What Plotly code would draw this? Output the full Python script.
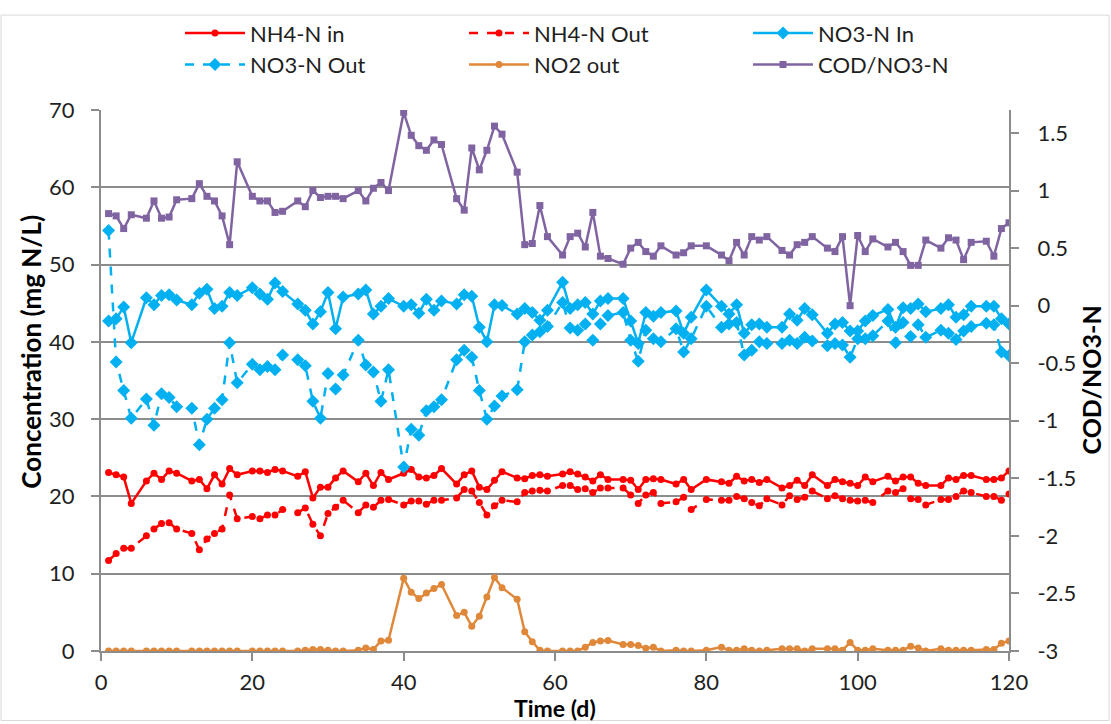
import plotly.graph_objects as go

days = [1,2,3,4,6,7,8,9,10,12,13,14,15,16,17,18,20,21,22,23,24,26,27,28,29,30,31,32,
        34,35,36,37,38,40,41,42,43,44,45,47,48,49,50,51,52,53,55,56,57,58,59,
        61,62,63,64,65,66,67,69,70,71,72,73,74,76,77,78,80,82,83,84,85,86,87,88,
        90,91,92,93,94,96,97,98,99,100,101,102,104,105,106,107,108,109,111,112,113,114,115,
        117,118,119,120]

nh4_in = [23.1,22.8,22.5,19.1,22.0,23.0,22.2,23.3,23.0,22.0,22.2,21.0,22.8,21.6,23.6,22.8,
          23.3,23.3,23.1,23.5,23.3,22.6,23.2,19.8,21.2,21.2,22.4,23.3,
          21.9,23.0,21.4,23.1,22.2,23.0,23.5,22.5,22.4,22.7,23.6,21.6,22.8,23.3,21.2,20.9,22.1,23.2,
          22.4,22.3,22.7,22.8,22.6,
          22.9,23.2,22.9,22.5,22.0,22.8,22.2,22.2,22.1,20.9,22.2,22.3,22.2,21.6,22.2,20.9,22.2,
          21.9,21.7,22.6,22.0,22.2,21.8,22.2,
          21.1,21.4,22.1,21.4,22.8,21.4,22.2,21.9,21.7,21.4,22.5,21.9,22.6,22.0,22.5,22.5,21.7,21.4,
          21.4,22.4,22.2,22.7,22.7,22.2,22.2,22.4,23.3]

nh4_out = [11.7,12.6,13.3,13.3,14.9,15.8,16.5,16.6,15.8,15.2,13.1,14.5,15.2,15.8,20.2,17.1,
           17.4,17.1,17.6,17.6,18.3,17.9,18.5,16.4,14.9,17.8,18.6,19.5,
           17.9,18.9,18.6,19.5,19.6,18.9,19.4,19.4,19.0,19.5,19.5,19.8,20.9,20.7,19.2,17.6,18.8,19.5,
           19.3,20.5,20.7,20.8,20.7,
           21.4,21.4,20.9,21.0,20.5,21.1,21.1,21.1,20.2,19.1,20.2,20.5,19.1,19.3,19.9,18.3,19.6,
           19.5,19.5,20.0,19.7,19.2,18.8,19.7,
           18.9,20.1,19.6,19.9,20.7,19.7,20.1,19.7,19.5,19.4,19.5,19.2,20.7,20.5,21.0,19.7,19.6,18.9,
           19.6,19.6,20.0,20.7,20.5,20.0,20.0,19.5,20.3]

no3_in = [42.7,43.0,44.5,39.9,45.7,44.8,46.0,46.1,45.4,44.8,46.3,46.8,44.3,44.6,46.4,46.0,
          47.0,46.2,45.5,47.6,46.5,44.9,44.1,42.3,43.9,46.4,41.7,45.8,
          46.2,46.7,43.6,44.6,45.6,44.6,44.8,43.7,45.5,44.1,45.3,44.9,46.1,45.9,41.9,40.0,44.8,44.7,
          43.6,44.3,43.8,42.8,44.1,
          47.7,44.3,44.8,45.1,43.6,45.3,45.6,45.6,42.7,39.8,43.8,43.3,43.8,44.0,41.1,43.2,46.7,
          44.6,43.6,44.8,41.1,42.2,42.3,41.9,
          41.9,43.6,42.8,44.3,43.5,41.1,42.3,42.5,41.4,41.4,42.7,43.4,44.2,41.9,44.4,44.3,44.9,43.9,
          44.3,44.8,43.2,43.5,44.6,44.6,44.6,43.0,42.3]

no3_out = [54.4,37.4,33.7,30.1,32.6,29.2,33.3,32.8,31.6,31.4,26.7,30.0,31.4,32.5,39.9,34.7,
           37.1,36.4,36.8,36.4,38.3,37.7,36.9,32.3,30.1,35.9,33.9,35.7,
           40.2,37.0,36.1,32.3,36.4,23.8,28.7,27.9,31.1,31.6,32.5,37.7,38.9,38.0,33.7,30.0,31.7,33.0,
           33.8,40.0,40.9,41.3,42.0,
           45.1,41.8,41.5,42.3,40.2,42.3,43.4,43.8,40.2,37.5,41.5,40.4,40.0,41.7,38.7,40.4,44.6,
           41.9,42.3,42.5,38.3,38.9,40.0,39.8,
           39.8,40.2,39.8,40.6,40.1,39.5,39.8,39.6,38.0,40.4,40.4,40.8,42.7,39.9,42.5,40.7,42.2,40.6,
           41.5,41.1,40.3,41.4,42.0,42.4,42.2,38.7,38.2]

no2_out = [0,0,0,0,0,0,0,0,0,0,0,0,0,0,0,0,
           0,0,0,0,0,0,0.1,0.2,0.2,0.1,0,0,
           0.1,0.4,0.2,1.3,1.4,9.4,7.6,6.8,7.5,8.1,8.6,4.6,5.0,3.2,4.5,7.0,9.5,8.2,
           6.7,2.5,1.2,0.1,0,
           0,0,0,0.5,1.1,1.3,1.35,0.85,0.85,0.7,0.35,0.5,0,0.1,0,0,0.1,
           0.5,0.1,0.1,0.3,0.1,0,0.1,
           0.3,0.3,0.3,0,0.3,0.3,0.3,0.1,1.1,0.1,0.1,0.3,0.1,0.1,0.1,0.6,0.4,0,
           0.3,0.1,0.1,0.1,0.1,0.2,0.2,1.0,1.3]

cod_no3 = [0.80,0.78,0.67,0.79,0.76,0.91,0.76,0.77,0.92,0.93,1.06,0.95,0.91,0.78,0.53,1.25,
           0.95,0.91,0.91,0.81,0.82,0.91,0.86,1.00,0.94,0.95,0.95,0.93,
           1.00,0.91,1.02,1.07,1.00,1.68,1.48,1.39,1.35,1.44,1.40,0.93,0.83,1.37,1.18,1.35,1.56,1.49,
           1.16,0.53,0.54,0.87,0.60,
           0.44,0.60,0.63,0.51,0.81,0.43,0.41,0.36,0.50,0.55,0.47,0.43,0.52,0.44,0.46,0.52,0.52,
           0.44,0.39,0.55,0.44,0.60,0.57,0.60,
           0.48,0.44,0.53,0.55,0.60,0.50,0.47,0.60,0.00,0.61,0.47,0.58,0.51,0.55,0.47,0.35,0.35,0.57,
           0.50,0.59,0.57,0.40,0.55,0.56,0.43,0.67,0.72]

x_ticks = [0, 20, 40, 60, 80, 100, 120]
y_ticks = [0, 10, 20, 30, 40, 50, 60, 70]
y2_ticks = [-3, -2.5, -2, -1.5, -1, -0.5, 0, 0.5, 1, 1.5]
y2_labels = ["-3", "-2.5", "-2", "-1.5", "-1", "-0.5", "0", "0.5", "1", "1.5"]

RED = "#FF0000"
BLUE = "#00B0F0"
ORANGE = "#E0883A"
PURPLE = "#8064A2"
GRID = "#8C8C8C"
TXT = "#1F1F1F"
FONT = "Lato, 'Open Sans', sans-serif"

# plot area in pixels
L, R, T, B = 101, 1009, 98, 651
PW, PH = R - L, B - T

fig = go.Figure()

def add(name, y, color, dash, symbol, size, yaxis="y"):
    fig.add_trace(go.Scatter(
        x=days, y=y, name=name, mode="lines+markers", yaxis=yaxis,
        line=dict(color=color, width=2.5, dash=dash),
        marker=dict(color=color, symbol=symbol, size=size, line=dict(width=0)),
    ))

add("NH4-N in", nh4_in, RED, "solid", "circle", 7)
add("NH4-N Out", nh4_out, RED, "dash", "circle", 7)
add("NO3-N In", no3_in, BLUE, "solid", "diamond", 10)
add("NO3-N Out", no3_out, BLUE, "dash", "diamond", 10)
add("NO2 out", no2_out, ORANGE, "solid", "circle", 7)
add("COD/NO3-N", cod_no3, PURPLE, "solid", "square", 7, yaxis="y2")

axis_common = dict(
    showgrid=False, zeroline=False,
    showline=True, linecolor=GRID, linewidth=2,
    ticks="outside", ticklen=8, tickwidth=2, tickcolor=GRID,
    tickfont=dict(size=22, color=TXT),
)

fig.update_layout(
    width=1111, height=724,
    margin=dict(l=L, r=1111 - R, t=T, b=724 - B),
    paper_bgcolor="white", plot_bgcolor="white",
    font=dict(family=FONT, size=22, color=TXT),
    showlegend=True,
    legend=dict(
        orientation="h", x=(180 - L) / PW, y=(B + 2) / PH, xanchor="left", yanchor="top",
        entrywidth=209, entrywidthmode="pixels", itemwidth=60,
        font=dict(family=FONT, size=22, color=TXT),
        bgcolor="rgba(0,0,0,0)", traceorder="normal",
    ),
    xaxis=dict(range=[0, 120], tickvals=x_ticks, ticktext=[str(v) for v in x_ticks],
               ticklabelstandoff=3, **axis_common),
    yaxis=dict(range=[0, 70], tickvals=y_ticks, ticktext=[str(v) for v in y_ticks],
               ticklabelstandoff=12,
               **{**axis_common, "showgrid": True, "gridcolor": GRID, "gridwidth": 2}),
    yaxis2=dict(range=[-3, 1.7], overlaying="y", side="right",
                tickvals=y2_ticks, ticktext=y2_labels, ticklabelstandoff=14, **axis_common),
    annotations=[
        dict(text="<b>Concentration (mg N/L)</b>", xref="paper", yref="paper",
             x=(31 - L) / PW, y=(B - 345) / PH, xanchor="center", yanchor="middle",
             textangle=-90, showarrow=False, font=dict(size=26, color="#000000")),
        dict(text="<b>COD/NO3-N</b>", xref="paper", yref="paper",
             x=(1090 - L) / PW, y=0.5, xanchor="center", yanchor="middle",
             textangle=-90, showarrow=False, font=dict(size=25, color="#000000")),
        dict(text="<b>Time (d)</b>", xref="paper", yref="paper",
             x=(555 - L) / PW, y=(B - 709) / PH, xanchor="center", yanchor="middle",
             showarrow=False, font=dict(size=23, color="#000000")),
    ],
)

fig.add_shape(type="rect", xref="paper", yref="paper",
              x0=(1 - L) / PW, x1=(1109 - L) / PW,
              y0=(B - 722) / PH, y1=(B - 1) / PH,
              line=dict(color="#D9D9D9", width=1), fillcolor="rgba(0,0,0,0)", layer="below")

fig.write_html("out.html", config={"displayModeBar": False},
               post_script="document.body.style.margin='0';document.body.style.overflow='hidden';")
